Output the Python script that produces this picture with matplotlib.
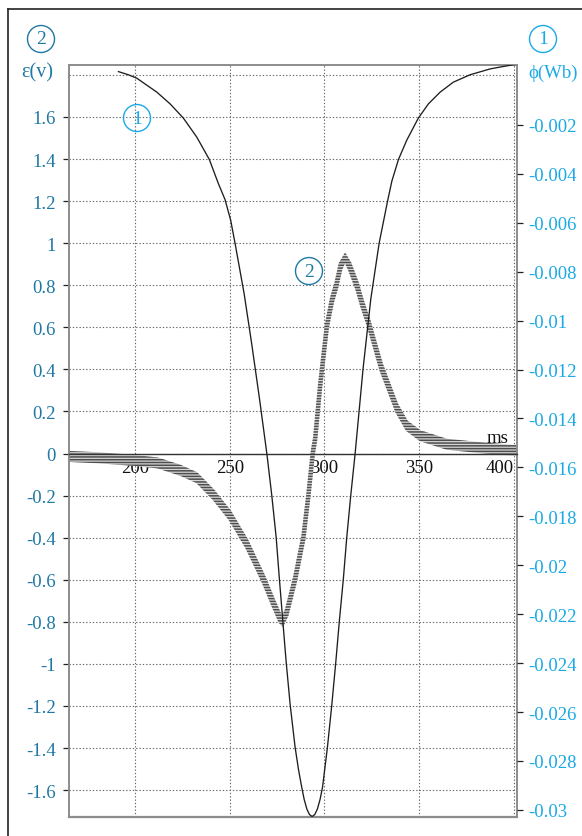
import numpy as np
import matplotlib
matplotlib.use("Agg")
import matplotlib.pyplot as plt
from matplotlib.patches import Ellipse
from matplotlib.lines import Line2D

plt.rcParams["font.family"] = ["Liberation Serif", "DejaVu Serif"]
plt.rcParams["hatch.linewidth"] = 1.1

# --- data -------------------------------------------------------------
# curve 1: magnetic flux phi (Wb) vs time (ms), right axis
t_phi = [191.2, 196.5, 200.9, 211.5, 218.5, 225.5, 232.6, 239.2, 244.0, 247.5,
         250.5, 252.8, 257.6, 261.5, 265.7, 269.6, 272.2, 274.5, 276.2, 278.0,
         279.8, 281.9, 284.5, 286.3, 288.0, 289.3, 290.7, 292.1, 293.5, 294.9,
         296.3, 297.7, 299.0, 301.6, 303.9, 306.0, 307.9, 310.0, 311.8, 313.9,
         316.2, 320.4, 324.5, 328.9, 333.3, 335.6, 339.1, 343.5, 349.6, 354.9,
         361.1, 368.1, 376.9, 387.5, 393.0, 399.8, 401.7]
phi = [0.00018, 0.00005, -0.00009, -0.00066, -0.00114, -0.00172, -0.00250,
       -0.00341, -0.00440, -0.00505, -0.00590, -0.00684, -0.00890, -0.01090,
       -0.01319, -0.01544, -0.01715, -0.01885, -0.02055, -0.02226, -0.02396,
       -0.02570, -0.02743, -0.02835, -0.02907, -0.02957, -0.02996, -0.03019,
       -0.03027, -0.03019, -0.02996, -0.02957, -0.02907, -0.02743, -0.02570,
       -0.02396, -0.02226, -0.02055, -0.01885, -0.01715, -0.01544, -0.01197,
       -0.00911, -0.00683, -0.00513, -0.00430, -0.00341, -0.00262, -0.00172,
       -0.00114, -0.00066, -0.00025, 0.00005, 0.00029, 0.00037, 0.00046,
       0.00048]

# curve 2: induced emf epsilon (V) vs time (ms), left axis
t_emf = [165.1, 180.0, 200.0, 212.0, 224.0, 232.6, 241.4, 250.2, 259.0, 267.8,
         273.0, 276.6, 277.8, 280.1, 284.5, 288.9, 291.5, 293.9, 295.1, 297.7,
         301.3, 304.0, 306.3, 308.5, 310.9, 313.3, 317.1, 320.0, 323.2, 330.0,
         338.2, 343.5, 350.5, 364.6, 382.2, 399.8, 401.7]
emf = [-0.014, -0.020, -0.033, -0.045, -0.080, -0.115, -0.196, -0.296, -0.430,
       -0.597, -0.710, -0.785, -0.800, -0.755, -0.597, -0.399, -0.201, 0.006,
       0.069, 0.320, 0.607, 0.730, 0.800, 0.890, 0.930, 0.890, 0.800, 0.710,
       0.624, 0.410, 0.216, 0.132, 0.085, 0.044, 0.028, 0.015, 0.014]

x_ticks = [200, 250, 300, 350, 400]
emf_ticks = [1.6, 1.4, 1.2, 1.0, 0.8, 0.6, 0.4, 0.2, 0.0, -0.2, -0.4, -0.6,
             -0.8, -1.0, -1.2, -1.4, -1.6]
emf_grid_extra = [1.8]
phi_ticks = [-0.002, -0.004, -0.006, -0.008, -0.01, -0.012, -0.014, -0.016,
             -0.018, -0.02, -0.022, -0.024, -0.026, -0.028, -0.03]

TEAL = "#1f78a4"
CYAN = "#1ba9e6"
FRAME = "#8c8c8c"

# --- figure -----------------------------------------------------------
W, H = 582, 837
fig = plt.figure(figsize=(W / 100, H / 100), dpi=100)
ax = fig.add_axes([69 / W, 19 / H, 448 / W, 752 / H])
ax.set_xlim(165.1, 401.7)
ax.set_ylim(-1.728, 1.847)
ax2 = ax.twinx()
ax2.set_ylim(-0.03029, 0.00045)

# grid
grid_kw = dict(color="#666666", linewidth=0.8, linestyle=(0, (1.2, 1.8)))
ax.set_xticks(x_ticks)
ax.set_yticks(emf_ticks)
ax.grid(True, zorder=0, **grid_kw)
for g in emf_grid_extra:
    ax.axhline(g, zorder=0, **grid_kw)
ax.set_axisbelow(True)

# emf trace: thick striped band swept along the curve by an elliptical pen
pts = ax.transData.transform(np.column_stack([t_emf, emf]))
d = np.gradient(pts, axis=0)
tang = d / np.linalg.norm(d, axis=1, keepdims=True)
nx, ny = -tang[:, 1], tang[:, 0]
pa, pb = 2.2, 5.5
den = np.sqrt((pa * nx) ** 2 + (pb * ny) ** 2)
off = np.column_stack([pa * pa * nx / den, pb * pb * ny / den])
band_px = np.vstack([pts + off, (pts - off)[::-1]])
band = ax.transData.inverted().transform(band_px)
ax.fill(band[:, 0], band[:, 1], facecolor="#d6d6d6", edgecolor="#4d4d4d",
        hatch="------", linewidth=0, zorder=2)

# flux curve
ax2.plot(t_phi, phi, color="#1e1e1e", linewidth=0.95, zorder=3)

# spines / frame
for s in ("top", "left", "right"):
    ax.spines[s].set_color(FRAME)
    ax.spines[s].set_linewidth(1.4)
ax.spines["bottom"].set_position(("data", 0))
ax.spines["bottom"].set_color("#333333")
ax.spines["bottom"].set_linewidth(1.0)
ax.add_line(Line2D([0, 1], [0, 0], transform=ax.transAxes, color=FRAME,
                   linewidth=1.6, clip_on=False))
for s in ax2.spines.values():
    s.set_visible(False)

# ticks
ax.set_xticklabels([str(v) for v in x_ticks])
ax.tick_params(axis="x", length=0, pad=4, labelsize=13.5, labelcolor="#111111")
ax.get_xticklabels()[-1].set_horizontalalignment("right")
ax.set_yticklabels([f"{round(v, 1):g}" for v in emf_ticks])
ax.tick_params(axis="y", direction="out", length=4.3, width=0.9, pad=5,
               labelsize=13.5, labelcolor=TEAL, color="#222222")
ax2.set_yticks(phi_ticks)
ax2.set_yticklabels([f"{v:g}" for v in phi_ticks])
ax2.tick_params(axis="y", direction="out", length=4.3, width=0.9, pad=3.6,
                labelsize=13.5, labelcolor=CYAN, color="#222222")

ax.text(0.9576, 0.5053, "ms", transform=ax.transAxes, ha="center",
        va="center", fontsize=13.5, color="#111111", zorder=5)

# circled curve markers
def circled(x, y, s, color, trans, rx, ry):
    fig.add_artist(Ellipse((x, y), 2 * rx, 2 * ry, transform=trans,
                           facecolor="none", edgecolor=color, linewidth=1.0))
    fig.text(x, y, s, transform=trans, ha="center", va="center",
             fontsize=14, color=color)

r = 13.5
circled(41 / W, 1 - 40 / H, "2", TEAL, fig.transFigure, r / W, r / H)
circled(543 / W, 1 - 40 / H, "1", CYAN, fig.transFigure, r / W, r / H)
circled(0.1518, 0.9295, "1", CYAN, ax.transAxes, r / 448, r / 752)
circled(0.5357, 0.7260, "2", TEAL, ax.transAxes, r / 448, r / 752)

fig.text(37 / W, 1 - 73 / H, "ε(v)", ha="center", va="center",
         fontsize=14.5, color=TEAL)
fig.text(553 / W, 1 - 73 / H, "ϕ(Wb)", ha="center", va="center",
         fontsize=13.5, color=CYAN)

# outer frame
fig.add_artist(Line2D([8 / W, 8 / W], [0, 1 - 10 / H],
                      transform=fig.transFigure, color="#222222", linewidth=1.2))
fig.add_artist(Line2D([8 / W, 1], [1 - 10 / H, 1 - 10 / H],
                      transform=fig.transFigure, color="#222222", linewidth=1.2))

fig.savefig("out.png", dpi=100)
